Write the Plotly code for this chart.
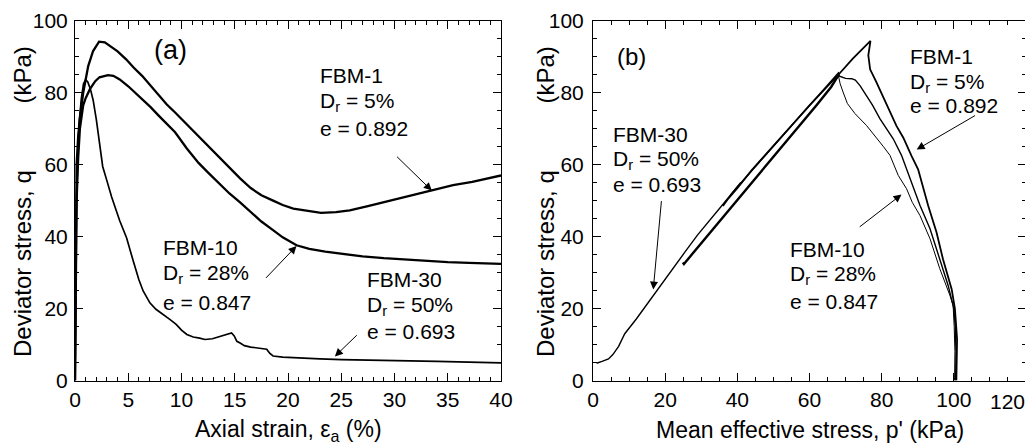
import plotly.graph_objects as go

# ---------------- Data: (a) q vs axial strain ----------------
fbm1_strain = [0, 0.05, 0.15, 0.3, 0.46, 0.77, 1.0, 1.24, 1.7, 2.26, 2.8, 3.25, 4.0, 4.8, 5.5, 6.3, 7.1, 7.9,
               8.6, 9.4, 10.5, 11.5, 12.5, 13.5, 14.5, 15.5, 16.5, 17.5, 18.6, 19.5, 20.5, 21.7, 23.1, 24.5,
               25.8, 27.5, 29.5, 31.5, 33.6, 35.5, 37.3, 39, 40]
fbm1_q = [0, 30, 60, 68, 73, 80, 84, 87.4, 91.6, 94.2, 94, 93, 91.5, 89.3, 87, 84.7, 82, 79.1,
          76.8, 74.5, 71.2, 68.3, 65.3, 62.3, 59.2, 56.2, 53.5, 51.5, 50, 48.8, 47.8, 47.2, 46.6, 46.8,
          47.3, 48.5, 50, 51.5, 53, 54.3, 55.2, 56.3, 57]

fbm10_strain = [0, 0.05, 0.15, 0.3, 0.46, 0.77, 1.0, 1.4, 1.9, 2.3, 3.1, 3.6, 4.2, 5.0, 5.6, 6.3, 7.1, 7.9,
                8.6, 9.4, 10.5, 11.6, 12.5, 13.5, 14.5, 15.5, 16.5, 17.5, 18.5, 19.5, 20.8, 22, 23.5, 25,
                27, 29, 31, 33, 35, 37, 39, 40]
fbm10_q = [0, 25, 50, 62, 70, 76.5, 78.5, 81, 83.2, 84.3, 84.9, 84.7, 83.7, 81.8, 80.2, 78.2, 76, 73.5,
           71.3, 69, 64.5, 60.5, 57.8, 54.8, 52, 49.5, 46.8, 44.2, 42, 39.8, 37.6, 36.6, 35.8, 35.2,
           34.5, 34, 33.6, 33.2, 32.9, 32.7, 32.5, 32.4]

fbm30_strain = [0, 0.05, 0.12, 0.25, 0.4, 0.6, 0.8, 1.0, 1.2, 1.45, 1.7, 2.0, 2.3, 2.6, 3.0, 3.44, 4.2, 4.84,
                5.47, 6.0, 6.4, 7.03, 7.6, 8.3, 8.9, 9.5, 10.0, 10.5, 11.1, 11.7, 12.2, 12.9, 13.6, 14.2,
                14.7, 14.95, 15.2, 15.5, 15.9, 16.5, 17.3, 18.0, 18.3, 18.6, 19.5, 21, 23, 25, 28, 31, 34,
                37, 40]
fbm30_q = [0, 25, 45, 62, 72, 78.5, 82.5, 83.6, 83, 81, 78, 72.6, 66, 59.5, 55.5, 51, 44.4, 39.7,
           33.2, 28, 24.9, 21.6, 19.8, 18.4, 17, 15.6, 14, 12.8, 12.1, 11.8, 11.4, 11.6, 12.3, 12.7,
           13.2, 12.4, 10.9, 10.4, 9.7, 9.3, 9.0, 8.7, 7.5, 6.8, 6.5, 6.2, 6.0, 5.8, 5.7, 5.5, 5.3,
           5.1, 4.9]

# ---------------- Data: (b) q vs p' ----------------
fbm1_p = [100.7, 100.9, 100.9, 100.3, 99.4, 97.0, 95.2, 92.9, 90.1, 88.3, 86.0, 84.1, 82.2, 80.4, 78.5,
          76.8, 76.3, 76.9, 72, 68, 64, 60, 56, 52, 48, 44, 40, 37, 36, 38.5, 41]
fbm1_pq = [0, 6, 11.5, 19.9, 25.4, 33.7, 41.2, 48.6, 58.7, 62.4, 67.5, 70.8, 75, 79.1, 83,
           86.5, 90.4, 94.4, 89.5, 85, 80.8, 76.5, 72, 67.5, 63, 58.5, 53.5, 50, 48.5, 52, 55]

fbm10_p = [100.2, 100.3, 100.1, 99.8, 98.9, 96.1, 93.4, 90.6, 88.5, 86.9, 84.6, 82.3, 80.5, 78.6, 75.8,
           72.6, 70.5, 69.3, 68.5, 68.0, 66, 62, 58, 54, 50, 46, 42, 38, 34, 30, 27, 25.2, 24.9]
fbm10_pq = [0, 8, 15, 20.9, 23.7, 31.1, 39.4, 45.9, 49.5, 53.3, 57, 62.6, 65, 67.5, 70.9,
            74.2, 77, 80.2, 82.5, 84.8, 81.6, 76.6, 71.8, 67, 62.2, 57.4, 52.6, 47.8, 43, 38.2, 34.6, 32.4, 32.8]

fbm30_p = [100.5, 100.6, 100.4, 100.0, 98.4, 96.1, 93.4, 90.6, 87.8, 85.5, 83.2, 81.3, 79.5, 77.5, 75.8,
           74.0, 72.7, 71.7, 70.0, 68.3, 68.0, 64, 60, 56, 52, 48, 44, 40, 37, 33, 29, 25.4, 20.8, 17.1,
           12, 8.8, 7.1, 5.5, 4.3, 2.5, 1.0]
fbm30_pq = [0, 8, 15, 20, 26.5, 33.9, 42.2, 48.7, 56.1, 62.6, 67.2, 70, 72.8, 76.5, 79.3,
            82, 83.5, 83.9, 84, 84.6, 85.5, 81, 76.5, 72, 67.5, 63, 58.5, 53.8, 50.2, 45.4, 40.5, 35.6,
            29.2, 24, 17.1, 13, 9.5, 7.2, 6.0, 5.3, 4.8]

FONT = "Liberation Sans, Arial, Helvetica, sans-serif"
BLACK = "#000000"

# the page body adds an 8 px margin; the figure is sized to fill the rest of the window
OX, OY = 8, 8
W, H = 1025, 438


def px(x):
    return (x - OX) / W


def py(y):
    return (H - (y - OY)) / H


fig = go.Figure()

# panel (a)
fig.add_trace(go.Scatter(x=fbm1_strain, y=fbm1_q, mode="lines", line=dict(color=BLACK, width=2.3),
                         xaxis="x", yaxis="y", showlegend=False))
fig.add_trace(go.Scatter(x=fbm10_strain, y=fbm10_q, mode="lines", line=dict(color=BLACK, width=2.3),
                         xaxis="x", yaxis="y", showlegend=False))
fig.add_trace(go.Scatter(x=fbm30_strain, y=fbm30_q, mode="lines", line=dict(color=BLACK, width=1.7),
                         xaxis="x", yaxis="y", showlegend=False))


# panel (b)
def peak_index(q):
    return max(range(len(q)), key=lambda i: q[i])


fig.add_trace(go.Scatter(x=fbm1_p, y=fbm1_pq, mode="lines", line=dict(color=BLACK, width=1.8),
                         xaxis="x2", yaxis="y2", showlegend=False))
fig.add_trace(go.Scatter(x=fbm30_p, y=fbm30_pq, mode="lines", line=dict(color=BLACK, width=1.4),
                         xaxis="x2", yaxis="y2", showlegend=False))
i10 = peak_index(fbm10_pq)
fig.add_trace(go.Scatter(x=fbm10_p[:i10 + 1], y=fbm10_pq[:i10 + 1], mode="lines",
                         line=dict(color=BLACK, width=1.0), xaxis="x2", yaxis="y2", showlegend=False))
fig.add_trace(go.Scatter(x=fbm10_p[i10:], y=fbm10_pq[i10:], mode="lines",
                         line=dict(color=BLACK, width=2.4), xaxis="x2", yaxis="y2", showlegend=False))

y_dom = [py(380.5), py(20.8)]

axis_common = dict(showline=True, linecolor=BLACK, linewidth=1, mirror="ticks", ticks="inside",
                   ticklen=8, tickwidth=1, tickcolor=BLACK, showgrid=False, zeroline=False,
                   automargin=False, tickfont=dict(family=FONT, size=21, color=BLACK))

fig.update_layout(
    template="none",
    width=W, height=H, margin=dict(l=0, r=0, t=0, b=0, pad=0, autoexpand=False),
    paper_bgcolor="white", plot_bgcolor="white",
    font=dict(family=FONT, color=BLACK),
    xaxis=dict(domain=[px(75), px(501)], range=[0, 40], tickvals=[0, 5, 10, 15, 20, 25, 30, 35, 40],
               minor=dict(dtick=1, ticklen=4, ticks="inside", tickcolor=BLACK), anchor="y",
               ticklabelstandoff=0, **axis_common),
    yaxis=dict(domain=y_dom, range=[0, 100], tickvals=[0, 20, 40, 60, 80, 100],
               minor=dict(dtick=5, ticklen=4, ticks="inside", tickcolor=BLACK), anchor="x",
               ticklabelstandoff=2, **axis_common),
    xaxis2=dict(domain=[px(593), px(1026)], range=[0, 120], tickvals=[0, 20, 40, 60, 80, 100, 120],
                ticktext=["0", "20", "40", "60", "80", "100", ""],
                minor=dict(dtick=5, ticklen=4, ticks="inside", tickcolor=BLACK), anchor="y2",
                ticklabelstandoff=0, **axis_common),
    yaxis2=dict(domain=y_dom, range=[0, 100], tickvals=[0, 20, 40, 60, 80, 100],
                minor=dict(dtick=5, ticklen=4, ticks="inside", tickcolor=BLACK), anchor="x2",
                ticklabelstandoff=4, **axis_common),
)

ann = []


def txt(x, y, s, xref, yref, size=21, xanchor="left", **kw):
    ann.append(dict(x=x, y=y, text=s, xref=xref, yref=yref, showarrow=False, xanchor=xanchor,
                    yanchor="middle", font=dict(family=FONT, size=size, color=BLACK), **kw))


def arrow(xt, yt, xh, yh, xref, yref):
    ann.append(dict(x=xh, y=yh, ax=xt, ay=yt, xref=xref, yref=yref, axref=xref, ayref=yref,
                    text="", showarrow=True, arrowhead=2, arrowsize=1.6, arrowwidth=1,
                    arrowcolor=BLACK, standoff=0, startstandoff=0))


# panel (a) labels
txt(9.0, 92, "(a)", "x", "y", size=27, xanchor="center")
txt(22.8, 84.9, "FBM-1", "x", "y")
txt(22.8, 77.3, "D<sub>r</sub> = 5%", "x", "y")
txt(22.8, 70.1, "e = 0.892", "x", "y")
arrow(30.1, 62.6, 33.5, 52.8, "x", "y")
txt(8.1, 37.0, "FBM-10", "x", "y")
txt(8.1, 29.7, "D<sub>r</sub> = 28%", "x", "y")
txt(8.1, 21.6, "e = 0.847", "x", "y")
arrow(17.8, 28.1, 20.8, 37.4, "x", "y")
txt(27.2, 28.1, "FBM-30", "x", "y")
txt(27.2, 20.6, "D<sub>r</sub> = 50%", "x", "y")
txt(27.2, 13.5, "e = 0.693", "x", "y")
arrow(26.6, 13.0, 24.4, 6.7, "x", "y")

# panel (b) labels
txt(10.6, 90, "(b)", "x2", "y2", size=24, xanchor="center")
txt(5.0, 68.5, "FBM-30", "x2", "y2")
txt(5.0, 61.3, "D<sub>r</sub> = 50%", "x2", "y2")
txt(5.0, 54.4, "e = 0.693", "x2", "y2")
arrow(19.0, 50.3, 16.7, 25.3, "x2", "y2")
txt(87.3, 90, "FBM-1", "x2", "y2")
txt(87.3, 82.8, "D<sub>r</sub> = 5%", "x2", "y2")
txt(87.3, 76.5, "e = 0.892", "x2", "y2")
arrow(106.3, 73.9, 89.7, 64.2, "x2", "y2")
txt(54.1, 36.4, "FBM-10", "x2", "y2")
txt(54.1, 29.3, "D<sub>r</sub> = 28%", "x2", "y2")
txt(54.1, 22.0, "e = 0.847", "x2", "y2")
arrow(73.5, 42.4, 85.5, 51.7, "x2", "y2")

# last tick label of (b) x axis, pulled inside the page as in the original
ann.append(dict(x=120, y=0, xref="x2", yref="y2", text="120", showarrow=False, xanchor="center",
                yanchor="top", xshift=-19, yshift=-7, font=dict(family=FONT, size=21, color=BLACK)))

# axis titles
ann.append(dict(x=px(288), y=py(430), xref="paper", yref="paper", showarrow=False,
                text="Axial strain, ε<sub>a</sub> (%)", xanchor="center", yanchor="middle",
                font=dict(family=FONT, size=23, color=BLACK)))
ann.append(dict(x=px(809.5), y=py(430), xref="paper", yref="paper", showarrow=False,
                text="Mean effective stress, p' (kPa)", xanchor="center", yanchor="middle",
                font=dict(family=FONT, size=23, color=BLACK)))
ytitle = "Deviator stress, q" + "\u00a0" * 10 + "(kPa)"
ann.append(dict(x=px(22), y=py(202), xref="paper", yref="paper", showarrow=False, text=ytitle,
                textangle=-90, xanchor="center", yanchor="middle",
                font=dict(family=FONT, size=24, color=BLACK)))
ann.append(dict(x=px(545), y=py(202), xref="paper", yref="paper", showarrow=False, text=ytitle,
                textangle=-90, xanchor="center", yanchor="middle",
                font=dict(family=FONT, size=24, color=BLACK)))

fig.update_layout(annotations=ann)
fig.write_html("out.html")
